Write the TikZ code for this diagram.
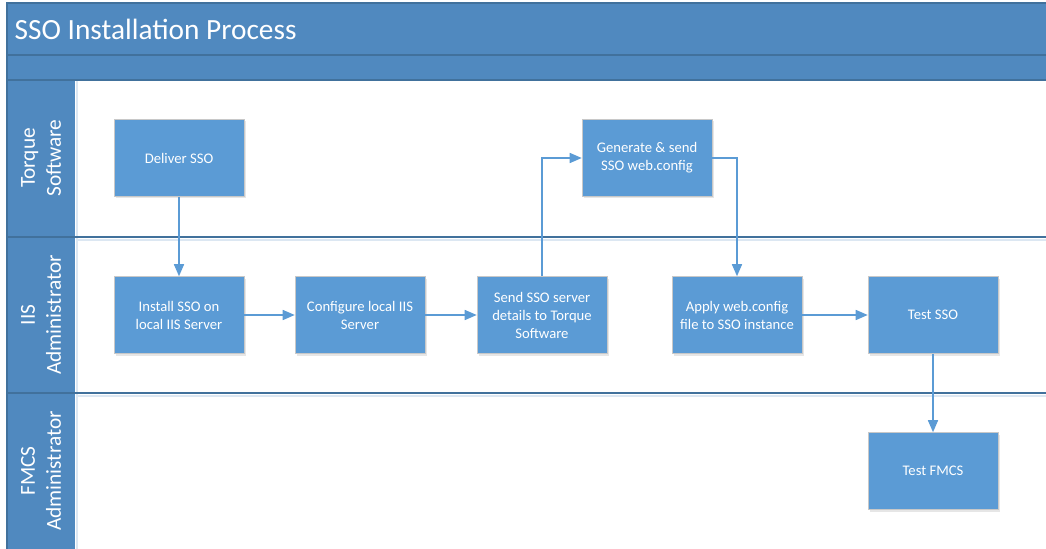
\documentclass[tikz,border=0pt]{standalone}
\usepackage{fontspec}
\setmainfont{Carlito}
\usetikzlibrary{arrows.meta, shadows}

\definecolor{laneblue}{RGB}{80,137,191}
\definecolor{lanedark}{RGB}{65,113,156}
\definecolor{boxblue}{RGB}{91,155,213}
\definecolor{boxedge}{RGB}{200,200,200}

\tikzset{
    paso/.style={draw=boxedge, fill=boxblue, text=white, align=center,
        minimum width=97.5pt, minimum height=57.75pt,
        font=\fontsize{11}{13.5}\selectfont,
        drop shadow={opacity=0.2, shadow xshift=1.5pt, shadow yshift=-1.5pt}},
    flecha/.style={-{Triangle[length=9pt,width=7.5pt]}, draw=boxblue, line width=1.1pt},
    carril/.style={text=white, rotate=90, align=center, font=\fontsize{16}{19.5}\selectfont},
    separa/.style={draw=lanedark, line width=1.2pt}
}

\begin{document}
\begin{tikzpicture}[x=0.75pt, y=-0.75pt]
        \useasboundingbox (0,0) rectangle (1046,549);
        \clip (0,0) rectangle (1046,549);
        % --- Cabecera y columna de carriles ---
        \draw[laneblue!20, line width=2pt] (77,80) -- (77,560);
        \fill[laneblue] (7,3) rectangle (1060,80);
        \fill[laneblue] (7,80) rectangle (75,560);
        \draw[laneblue!20, line width=2pt] (76,240) -- (1060,240);
        \draw[laneblue!20, line width=2pt] (76,396) -- (1060,396);
        \draw[separa] (7,3) rectangle (1060,560);
        \draw[separa] (7,55) -- (1060,55);
        \draw[separa] (7,80) -- (1060,80);
        \draw[separa] (7,237) -- (1060,237);
        \draw[separa] (7,393) -- (1060,393);
        \node[anchor=west, text=white, font=\fontsize{22}{26}\selectfont] (titulo) at (10,29) {SSO Installation Process};
        % --- Nombres de los carriles ---
        \node[carril] (torque) at (41,158) {Torque\\Software};
        \node[carril] (iis) at (41,315) {IIS\\Administrator};
        \node[carril] (fmcs) at (41,471) {FMCS\\Administrator};
        % --- Pasos del proceso ---
        \node[paso] (deliver) at (179,158) {Deliver SSO};
        \node[paso] (install) at (179,315) {Install SSO on\\local IIS Server};
        \node[paso] (configure) at (360,315) {Configure local IIS\\Server};
        \node[paso] (sendinfo) at (542,315) {Send SSO server\\details to Torque\\Software};
        \node[paso] (generate) at (647,158) {Generate \& send\\SSO web.config};
        \node[paso] (apply) at (737,315) {Apply web.config\\file to SSO instance};
        \node[paso] (testsso) at (933,315) {Test SSO};
        \node[paso] (testfmcs) at (933,471) {Test FMCS};
        % --- Flechas de conexión ---
        \draw[flecha] (deliver) -- (install);
        \draw[flecha] (install) -- (configure);
        \draw[flecha] (configure) -- (sendinfo);
        \draw[flecha] (sendinfo.north) |- (generate.west);
        \draw[flecha] (generate.east) -| (apply.north);
        \draw[flecha] (apply) -- (testsso);
        \draw[flecha] (testsso) -- (testfmcs);
\end{tikzpicture}
\end{document}
